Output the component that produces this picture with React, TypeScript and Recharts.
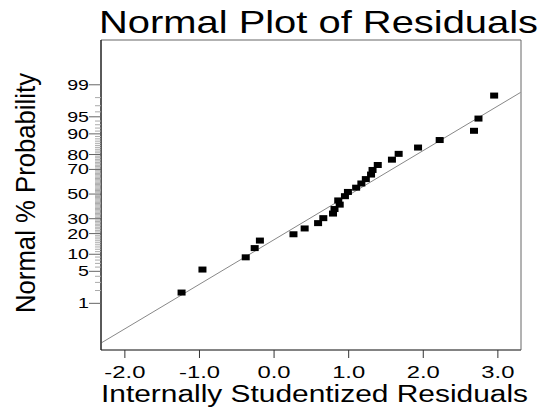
import { ScatterChart, Scatter, XAxis, YAxis, ReferenceLine, ReferenceArea } from 'recharts';

// residuals (x) and their normal % probability (y)
const residuals = [
  -1.24, -0.96, -0.38, -0.26, -0.19, 0.26, 0.41, 0.59, 0.66, 0.79, 0.81, 0.88, 0.86, 0.95,
  0.99, 1.1, 1.17, 1.23, 1.3, 1.32, 1.39, 1.58, 1.67, 1.93, 2.22, 2.68, 2.74, 2.95,
];
const probPct = [
  1.8, 5.4, 8.9, 12.5, 16.1, 19.6, 23.2, 26.8, 30.4, 33.9, 37.5, 41.1, 44.6, 48.2,
  51.8, 55.4, 58.9, 62.5, 66.1, 69.6, 73.2, 76.8, 80.4, 83.9, 87.5, 91.1, 94.6, 98.2,
];

// reference line end points
const fitX = [-2.31, 3.305];
const fitPct = [0.078, 98.48];

const xTicks = [-2, -1, 0, 1, 2, 3];
const yLabels = [1, 5, 10, 20, 30, 50, 70, 80, 90, 95, 99];
const yMinor = Array.from({ length: 99 }, (_, i) => i + 1);

const X_DOMAIN = [-2.32, 3.31];
const Y_DOMAIN = [-3.32, 3.28];

// inverse normal cdf (Acklam) - turns % probability into the normal score axis
function probit(p: number): number {
  const a = [-39.69683028665376, 220.9460984245205, -275.9285104469687, 138.357751867269, -30.66479806614716, 2.506628277459239];
  const b = [-54.47609879822406, 161.5858368580409, -155.6989798598866, 66.80131188771972, -13.28068155288572];
  const c = [-0.007784894002430293, -0.3223964580411365, -2.400758277161838, -2.549732539343734, 4.374664141464968, 2.938163982698783];
  const d = [0.007784695709041462, 0.3224671290700398, 2.445134137142996, 3.754408661907416];
  const lo = 0.02425;
  if (p < lo) {
    const q = Math.sqrt(-2 * Math.log(p));
    return (((((c[0] * q + c[1]) * q + c[2]) * q + c[3]) * q + c[4]) * q + c[5]) / ((((d[0] * q + d[1]) * q + d[2]) * q + d[3]) * q + 1);
  }
  if (p <= 1 - lo) {
    const q = p - 0.5;
    const r = q * q;
    return ((((((a[0] * r + a[1]) * r + a[2]) * r + a[3]) * r + a[4]) * r + a[5]) * q) / (((((b[0] * r + b[1]) * r + b[2]) * r + b[3]) * r + b[4]) * r + 1);
  }
  const q = Math.sqrt(-2 * Math.log(1 - p));
  return -(((((c[0] * q + c[1]) * q + c[2]) * q + c[3]) * q + c[4]) * q + c[5]) / ((((d[0] * q + d[1]) * q + d[2]) * q + d[3]) * q + 1);
}

const points = residuals.map((x, i) => ({ x, z: probit(probPct[i] / 100) }));
const yTickZ = yMinor.map(p => probit(p / 100));

const FONT = '"Liberation Sans", Arial, sans-serif';

const YTick = (props: any) => {
  const { x, y, index } = props;
  const pct = yMinor[index];
  const major = yLabels.includes(pct);
  return (
    <g>
      <line x1={x - (major ? 12 : 6)} x2={x} y1={y} y2={y} stroke={major ? '#666' : '#aaa'} strokeWidth={1} />
      {major && (
        <text transform={`translate(${x - 12},${y}) scale(1.4,1)`} textAnchor="end" dy="0.36em" fontSize={14} fill="#000" fontFamily={FONT}>
          {pct}
        </text>
      )}
    </g>
  );
};

const XTick = (props: any) => {
  const { x, y, payload } = props;
  return (
    <g>
      <line x1={x} x2={x} y1={y} y2={y + 8} stroke="#333" strokeWidth={1} />
      <text transform={`translate(${x},${y + 28}) scale(1.4,1)`} textAnchor="middle" fontSize={17} fill="#000" fontFamily={FONT}>
        {Number(payload.value).toFixed(1)}
      </text>
    </g>
  );
};

const Square = (props: any) => {
  const { cx, cy } = props;
  return <rect x={cx - 4} y={cy - 3} width={8} height={6} fill="#000" />;
};

export default function App() {
  return (
    <div style={{ position: 'absolute', left: 0, top: 0, width: 558, height: 415, background: '#fff' }}>
      <ScatterChart width={558} height={415} margin={{ top: 40, right: 37, bottom: 15, left: 41 }}>
        <XAxis
          type="number"
          dataKey="x"
          domain={X_DOMAIN}
          ticks={xTicks}
          allowDataOverflow
          height={50}
          interval={0}
          tickLine={false}
          tickSize={0}
          tickMargin={0}
          tick={<XTick />}
          axisLine={{ stroke: '#555' }}
          label={() => (
            <text x={101} y={402} fontSize={23.5} fontFamily={FONT} fill="#000" textLength={427} lengthAdjust="spacingAndGlyphs">
              Internally Studentized Residuals
            </text>
          )}
        />
        <YAxis
          type="number"
          dataKey="z"
          domain={Y_DOMAIN}
          ticks={yTickZ}
          allowDataOverflow
          width={60}
          interval={0}
          tickLine={false}
          tickSize={0}
          tickMargin={0}
          tick={<YTick />}
          axisLine={{ stroke: '#000' }}
          label={() => (
            <g>
              <text x={99} y={33} fontSize={32} fontFamily={FONT} fill="#000" textLength={439} lengthAdjust="spacingAndGlyphs">
                Normal Plot of Residuals
              </text>
              <text
                transform="translate(35,193) rotate(-90)"
                textAnchor="middle"
                fontSize={28}
                fontFamily={FONT}
                fill="#000"
                textLength={240}
                lengthAdjust="spacingAndGlyphs"
              >
                Normal % Probability
              </text>
            </g>
          )}
        />
        <ReferenceArea x1={X_DOMAIN[0]} x2={X_DOMAIN[1]} y1={Y_DOMAIN[0]} y2={Y_DOMAIN[1]} fill="none" stroke="#666" strokeWidth={1} />
        <ReferenceLine
          segment={[
            { x: fitX[0], y: probit(fitPct[0] / 100) },
            { x: fitX[1], y: probit(fitPct[1] / 100) },
          ]}
          stroke="#888"
          strokeWidth={1}
        />
        <Scatter data={points} shape={<Square />} isAnimationActive={false} />
      </ScatterChart>
    </div>
  );
}
